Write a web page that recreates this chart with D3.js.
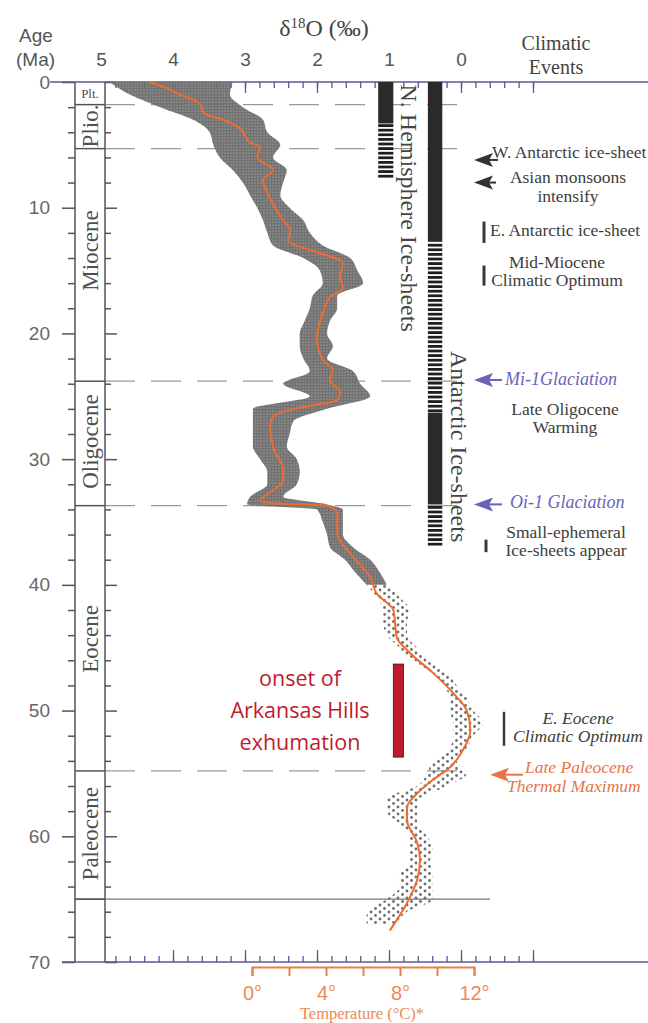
<!DOCTYPE html>
<html>
<head>
<meta charset="utf-8">
<script src="https://cdn.jsdelivr.net/npm/d3@7"></script>
<style>
  body { margin: 0; background: #fff; }
  svg { display: block; }
  .serif { font-family: "Liberation Serif", "DejaVu Serif", serif; }
  .sans { font-family: "Liberation Sans", Arial, sans-serif; }
</style>
</head>
<body>
<svg id="chart"></svg>
<script>
// size
const width = 648;
const height = 1023;

// geologic epochs (Ma)
const epochNames = ["Plt.", "Plio.", "Miocene", "Oligocene", "Eocene", "Paleocene"];
const epochBounds = [0, 1.8, 5.3, 23.8, 33.7, 54.8, 65];
const epochLabelAge = [0.9, 3.5, 13.4, 28.6, 44.3, 59.8];
const dashedAges = [1.8, 5.3, 23.8, 33.7, 54.8];
const solidAges = [65];

// δ18O scatter envelope (age Ma, high δ18O edge, low δ18O edge)
const cloudAge = [0, 1, 2, 3, 4, 5, 6, 7, 8, 9, 10, 11, 12, 13, 14, 15, 16, 17, 18, 19, 20,
  21, 22, 23, 24, 25, 26, 27, 28, 29, 30, 31, 32, 33, 33.6, 34, 35, 36, 37, 38, 39, 40,
  41, 42, 43, 44, 45, 46, 47, 48, 49, 50, 51, 52, 53, 54, 55, 56, 57, 58, 59, 60,
  61, 62, 63, 64, 65, 66, 67];
const cloudHigh = [4.88, 4.60, 4.18, 3.72, 3.49, 3.44, 3.35, 3.17, 3.03, 2.93, 2.83, 2.75, 2.69, 2.61, 2.19, 1.96, 1.92, 2.06, 2.10, 2.17, 2.24,
  2.24, 2.19, 2.10, 2.47, 2.10, 2.89, 2.89, 2.89, 2.89, 2.79, 2.69, 2.69, 2.93, 2.97, 2.00, 1.92, 1.86, 1.82, 1.61, 1.47, 1.31,
  1.17, 1.08, 1.08, 1.03, 0.85, 0.71, 0.39, 0.25, 0.15, 0.15, 0.11, 0.11, 0.15, 0.39, 0.47, 0.61, 1.03, 1.03, 0.85, 0.71,
  0.71, 0.71, 0.85, 0.85, 1.03, 1.31, 1.31];
const cloudLow = [3.17, 3.21, 3.03, 2.75, 2.69, 2.51, 2.61, 2.42, 2.47, 2.51, 2.38, 2.19, 2.10, 1.92, 1.54, 1.44, 1.36, 1.72, 1.72, 1.82, 1.86,
  1.78, 1.86, 1.50, 1.40, 1.26, 1.86, 2.33, 2.38, 2.42, 2.28, 2.24, 2.28, 2.47, 1.86, 1.64, 1.64, 1.64, 1.50, 1.26, 1.13, 1.03,
  0.85, 0.71, 0.75, 0.75, 0.61, 0.47, 0.19, 0.06, -0.08, -0.17, -0.31, -0.17, -0.08, 0.06, -0.08, 0.19, 0.57, 0.61, 0.61, 0.47,
  0.39, 0.43, 0.39, 0.39, 0.39, 0.75, 0.89];

// smoothed δ18O curve
const curveAge = [0, 0.6, 1.0, 1.7, 2.5, 3.0, 3.7, 4.8, 5.2, 6.0, 7.0, 7.8, 8.8, 10.2, 11.0, 11.8, 12.6, 13.1, 13.6, 14.4,
  15.5, 16.4, 17.1, 18.4, 20.3, 22.1, 22.9, 23.7, 24.7, 25.3, 25.9, 26.6, 27.4, 29.0, 30.9, 31.7, 32.5, 33.3, 33.5, 33.7,
  34.3, 35.9, 37.5, 39.4, 40.7, 42.0, 44.2, 45.4, 47.0, 48.6, 50.0, 51.6, 53.1, 54.5, 55.5, 56.6, 57.7, 58.7, 60.5, 61.9,
  63.5, 65.3, 67.5];
const curveD18O = [4.32, 4.04, 3.90, 3.63, 3.56, 3.30, 3.07, 2.93, 2.79, 2.83, 2.61, 2.75, 2.69, 2.56, 2.47, 2.37, 2.40, 2.24, 1.96, 1.64,
  1.68, 1.64, 1.82, 1.92, 2.00, 1.92, 1.78, 1.82, 1.68, 1.72, 2.24, 2.61, 2.65, 2.61, 2.47, 2.47, 2.61, 2.79, 2.61, 1.86,
  1.72, 1.72, 1.54, 1.26, 1.17, 0.94, 0.89, 0.71, 0.39, 0.11, -0.08, -0.13, -0.03, 0.15, 0.39, 0.61, 0.75, 0.75, 0.61, 0.57,
  0.61, 0.75, 0.99];

// ice-sheet bars (Ma)
const iceBars = [
  { sheet: "N", from: 0, to: 3.3, solid: true },
  { sheet: "N", from: 3.3, to: 7.7, solid: false },
  { sheet: "A", from: 0, to: 12.7, solid: true },
  { sheet: "A", from: 12.7, to: 26.3, solid: false },
  { sheet: "A", from: 26.3, to: 33.6, solid: true },
  { sheet: "A", from: 33.6, to: 36.9, solid: false }
];

// climatic events
const arrowEvents = [
  { age: 6.2, color: "#333", lines: ["W. Antarctic ice-sheet"] },
  { age: 8.0, color: "#333", lines: ["Asian monsoons", "intensify"] },
  { age: 23.7, color: "#6a62b8", lines: ["Mi-1Glaciation"] },
  { age: 33.6, color: "#6a62b8", lines: ["Oi-1 Glaciation"] },
  { age: 55.1, color: "#e8744a", lines: ["Late Paleocene", "Thermal Maximum"] }
];
const rangeEvents = [
  { from: 11.1, to: 12.8, lines: ["E. Antarctic ice-sheet"] },
  { from: 14.6, to: 16.2, lines: ["Mid-Miocene", "Climatic Optimum"] },
  { from: 36.4, to: 37.4, lines: ["Small-ephemeral", "Ice-sheets appear"] },
  { from: 50.1, to: 52.8, lines: ["E. Eocene", "Climatic Optimum"] }
];
const plainEvents = [{ age: 26.5, lines: ["Late Oligocene", "Warming"] }];

// exhumation window
const exhumation = { from: 46.3, to: 53.7, lines: ["onset of", "Arkansas Hills", "exhumation"] };

// axis ticks
const ageTicks = [0, 10, 20, 30, 40, 50, 60, 70];
const d18OTicks = [5, 4, 3, 2, 1, 0];
const tempTicks = [0, 2, 4, 6, 8, 10, 12];

// scales
const y = d3.scaleLinear().domain([0, 70]).range([82, 962]);
const x = d3.scaleLinear().domain([0, 5]).range([461, 101]);
const tScale = d3.scaleLinear().domain([0, 12]).range([252, 474]);

const sheetX = { N: [1.15, 0.94], A: [0.46, 0.26] };

const svg = d3.select("#chart").attr("width", width).attr("height", height);
svg.append("rect").attr("width", width).attr("height", height).attr("fill", "#fff");

// patterns
const defs = svg.append("defs");
const stripes = defs.append("pattern").attr("id", "stripes")
  .attr("patternUnits", "userSpaceOnUse").attr("width", 20).attr("height", 4.6);
stripes.append("rect").attr("width", 20).attr("height", 2.8).attr("fill", "#1e1e1e");

const dense = defs.append("pattern").attr("id", "dense")
  .attr("patternUnits", "userSpaceOnUse").attr("width", 3).attr("height", 3);
dense.append("circle").attr("cx", 1.5).attr("cy", 1.5).attr("r", 1.75).attr("fill", "#727272");

const sparse = defs.append("pattern").attr("id", "sparse")
  .attr("patternUnits", "userSpaceOnUse").attr("width", 9).attr("height", 7);
sparse.append("circle").attr("cx", 2).attr("cy", 2).attr("r", 1.4).attr("fill", "#6e6e6e");
sparse.append("circle").attr("cx", 6.5).attr("cy", 5.5).attr("r", 1.4).attr("fill", "#6e6e6e");

// epoch boundary lines
svg.append("g").selectAll("line").data(dashedAges).enter().append("line")
  .attr("x1", 105).attr("x2", 470)
  .attr("y1", d => y(d)).attr("y2", d => y(d))
  .attr("stroke", "#9a9a9a").attr("stroke-width", 1.3)
  .attr("stroke-dasharray", "30,16");
svg.append("g").selectAll("line").data(solidAges).enter().append("line")
  .attr("x1", 75).attr("x2", 490)
  .attr("y1", d => y(d)).attr("y2", d => y(d))
  .attr("stroke", "#777").attr("stroke-width", 1.2);

// epoch column
const col = svg.append("g").attr("stroke", "#555").attr("stroke-width", 1.5);
col.append("line").attr("x1", 75).attr("x2", 75).attr("y1", y(0)).attr("y2", y(70));
col.append("line").attr("x1", 105).attr("x2", 105).attr("y1", y(0)).attr("y2", y(70));
col.selectAll(".eb").data(epochBounds.slice(1)).enter().append("line")
  .attr("x1", 75).attr("x2", 105).attr("y1", d => y(d)).attr("y2", d => y(d));

svg.append("g").selectAll("text").data(epochNames).enter().append("text")
  .attr("class", "serif")
  .attr("fill", "#505050")
  .attr("text-anchor", "middle")
  .attr("font-size", (d, i) => i === 0 ? 13 : 23)
  .attr("transform", (d, i) => i === 0
    ? `translate(90,${y(epochLabelAge[i]) + 5})`
    : `translate(90,${y(epochLabelAge[i])}) rotate(-90)`)
  .attr("dy", (d, i) => i === 0 ? 0 : "0.35em")
  .text(d => d);

// age axes
const minorAges = d3.range(0, 71, 2).filter(d => d % 10 !== 0);
function ageAxis(gen, xPos, size, values, labels) {
  const g = svg.append("g").attr("transform", `translate(${xPos},0)`)
    .call(gen(y).tickValues(values).tickSize(size).tickPadding(12)
      .tickFormat(labels ? d3.format("d") : ""));
  g.select(".domain").remove();
  g.selectAll(".tick line").attr("stroke", "#555").attr("stroke-width", 1.5);
  g.selectAll("text").attr("class", "sans").attr("fill", "#666").attr("font-size", 19);
  return g;
}
ageAxis(d3.axisLeft, 75, 13, ageTicks, true);
ageAxis(d3.axisLeft, 75, 7, minorAges, false);
ageAxis(d3.axisRight, 105, 12, ageTicks, false);
ageAxis(d3.axisRight, 105, 6, minorAges, false);

// δ18O axes (top and bottom)
const minorD = d3.range(-1, 4.81, 0.2).map(d => +d.toFixed(1));
const majorD = [-1, 0, 1, 2, 3, 4];
function dAxis(gen, yPos, size, values) {
  const g = svg.append("g").attr("transform", `translate(0,${yPos})`)
    .call(gen(x).tickValues(values).tickSize(size).tickFormat(""));
  g.select(".domain").remove();
  g.selectAll(".tick line").attr("stroke", "#5c5694").attr("stroke-width", 1.3);
}
dAxis(d3.axisBottom, 82, 6, minorD);
dAxis(d3.axisBottom, 82, 11, majorD);
dAxis(d3.axisTop, 962, 6, minorD);
dAxis(d3.axisTop, 962, 12, majorD);

svg.append("line").attr("x1", 50).attr("x2", width).attr("y1", 82).attr("y2", 82)
  .attr("stroke", "#5c5694").attr("stroke-width", 1.5);
svg.append("line").attr("x1", 62).attr("x2", width).attr("y1", 962).attr("y2", 962)
  .attr("stroke", "#5c5694").attr("stroke-width", 1.5);

const topLabels = svg.append("g").attr("transform", "translate(0,82)")
  .call(d3.axisTop(x).tickValues(d18OTicks).tickSize(0).tickPadding(16).tickFormat(d3.format("d")));
topLabels.select(".domain").remove();
topLabels.selectAll("text").attr("class", "sans").attr("fill", "#555").attr("font-size", 19);

// scatter cloud
const cloud = cloudAge.map((a, i) => ({ a, hi: cloudHigh[i], lo: cloudLow[i] }));
const area = d3.area()
  .y(d => y(d.a))
  .x0(d => x(d.hi))
  .x1(d => x(d.lo))
  .curve(d3.curveMonotoneY);
svg.append("path").datum(cloud.filter(d => d.a <= 40))
  .attr("d", area).attr("fill", "url(#dense)");
svg.append("path").datum(cloud.filter(d => d.a >= 40))
  .attr("d", area).attr("fill", "url(#sparse)");

// smoothed curve
const curve = curveAge.map((a, i) => ({ a, v: curveD18O[i] }));
svg.append("path").datum(curve)
  .attr("d", d3.line().y(d => y(d.a)).x(d => x(d.v)).curve(d3.curveMonotoneY))
  .attr("fill", "none").attr("stroke", "#ee6c30").attr("stroke-width", 2);

// ice-sheet bars
svg.append("g").selectAll("rect").data(iceBars).enter().append("rect")
  .attr("x", d => x(sheetX[d.sheet][0]))
  .attr("width", d => x(sheetX[d.sheet][1]) - x(sheetX[d.sheet][0]))
  .attr("y", d => y(d.from))
  .attr("height", d => y(d.to) - y(d.from))
  .attr("fill", d => d.solid ? "#2a2a2a" : "url(#stripes)");

svg.append("text").attr("class", "serif").attr("fill", "#444").attr("font-size", 24)
  .attr("transform", `translate(401,${y(0.2)}) rotate(90)`)
  .text("N. Hemisphere Ice-sheets");
svg.append("text").attr("class", "serif").attr("fill", "#444").attr("font-size", 24)
  .attr("transform", `translate(451,${y(21.4)}) rotate(90)`)
  .text("Antarctic Ice-sheets");

// headers
const hdr = svg.append("g");
hdr.append("text").attr("class", "sans").attr("fill", "#555").attr("font-size", 19)
  .attr("x", 19).attr("y", 42).text("Age");
hdr.append("text").attr("class", "sans").attr("fill", "#555").attr("font-size", 19)
  .attr("x", 16).attr("y", 66).text("(Ma)");
const dt = hdr.append("text").attr("class", "serif").attr("fill", "#444").attr("font-size", 24)
  .attr("x", 324).attr("y", 36).attr("text-anchor", "middle");
dt.append("tspan").text("δ");
dt.append("tspan").attr("font-size", 15).attr("dy", -8).text("18");
dt.append("tspan").attr("dy", 8).text("O (‰)");
hdr.append("text").attr("class", "serif").attr("fill", "#444").attr("font-size", 20)
  .attr("x", 556).attr("y", 50).attr("text-anchor", "middle").text("Climatic");
hdr.append("text").attr("class", "serif").attr("fill", "#444").attr("font-size", 20)
  .attr("x", 556).attr("y", 74).attr("text-anchor", "middle").text("Events");

// arrows
function arrowAt(tipX, yy, color, len) {
  svg.append("path")
    .attr("d", `M${tipX},${yy} L${tipX + 19},${yy - 7} L${tipX + 15},${yy} L${tipX + 19},${yy + 7} Z`)
    .attr("fill", color);
  svg.append("line").attr("x1", tipX + 14).attr("x2", tipX + len)
    .attr("y1", yy).attr("y2", yy).attr("stroke", color).attr("stroke-width", 2);
}
const ev = svg.append("g").attr("class", "serif").attr("font-size", 17.5);

function arrowEvent(e, tipX, len, tx, anchor, dy, italic) {
  arrowAt(tipX, y(e.age), e.color, len);
  e.lines.forEach((t, i) => {
    let lx = tx;
    if (e.lines.length === 2 && anchor === "start" && i === 1) lx = tx - 18;
    ev.append("text")
      .attr("x", lx).attr("y", y(e.age) + dy + i * 19)
      .attr("text-anchor", anchor)
      .attr("fill", e.color === "#333" ? "#3d3d3d" : e.color)
      .attr("font-style", italic ? "italic" : null)
      .attr("font-size", italic && e.lines.length === 1 ? 18 : 17.5)
      .text(t);
  });
}
arrowEvent(arrowEvents[0], 474, 24, 492, "start", -2, false);
arrowEvent(arrowEvents[1], 474, 22, 568, "middle", 0, false);
arrowEvent(arrowEvents[2], 474, 28, 505, "start", 5, true);
arrowEvent(arrowEvents[3], 474, 28, 510, "start", 4, true);
arrowEvent(arrowEvents[4], 490, 33, 525, "start", -2, true);

// range marks
const rangeX = [484, 484, 486, 504];
const rangeText = [
  { x: 490, anchor: "start", dy: 14 },
  { x: 557, anchor: "middle", dy: 2 },
  { x: 566, anchor: "middle", dy: -2 },
  { x: 578, anchor: "middle", dy: 12 }
];
rangeEvents.forEach((e, i) => {
  svg.append("line").attr("x1", rangeX[i]).attr("x2", rangeX[i])
    .attr("y1", y(e.from)).attr("y2", y(e.to))
    .attr("stroke", "#3a3a3a").attr("stroke-width", i === 3 ? 2.5 : 3);
  e.lines.forEach((t, j) => {
    ev.append("text")
      .attr("x", rangeText[i].x).attr("y", y(e.from) + rangeText[i].dy + j * 18)
      .attr("text-anchor", rangeText[i].anchor)
      .attr("fill", "#3d3d3d")
      .attr("font-style", i === 3 ? "italic" : null)
      .text(t);
  });
});

plainEvents.forEach(e => {
  e.lines.forEach((t, j) => {
    ev.append("text").attr("x", 565).attr("y", y(e.age) + j * 18)
      .attr("text-anchor", "middle").attr("fill", "#3d3d3d").text(t);
  });
});

// exhumation bar and label
svg.append("rect")
  .attr("x", x(0.94)).attr("width", x(0.80) - x(0.94))
  .attr("y", y(exhumation.from)).attr("height", y(exhumation.to) - y(exhumation.from))
  .attr("fill", "#c01a2e").attr("stroke", "#3a1015").attr("stroke-width", 0.8);
exhumation.lines.forEach((t, i) => {
  svg.append("text").attr("font-family", "'Open Sans', 'Noto Sans', sans-serif")
    .attr("font-size", 21.5).attr("fill", "#c01a2e").attr("text-anchor", "middle")
    .attr("x", 300).attr("y", y(exhumation.from) + 22 + i * 32).text(t);
});

// temperature axis
const tg = svg.append("g").attr("transform", "translate(0,967)")
  .call(d3.axisBottom(tScale).tickValues(tempTicks).tickSize(9).tickSizeOuter(9).tickPadding(10)
    .tickFormat(d => d % 4 === 0 ? d + "°" : ""));
tg.select(".domain").attr("stroke", "#e8804a").attr("stroke-width", 2);
tg.selectAll(".tick line").attr("stroke", "#e8804a").attr("stroke-width", 2);
tg.selectAll("text").attr("class", "sans").attr("fill", "#ec8a58").attr("font-size", 20);
svg.append("text").attr("class", "serif").attr("fill", "#ec8a58").attr("font-size", 16.5)
  .attr("x", 362).attr("y", 1019).attr("text-anchor", "middle").text("Temperature (°C)*");
</script>
</body>
</html>
